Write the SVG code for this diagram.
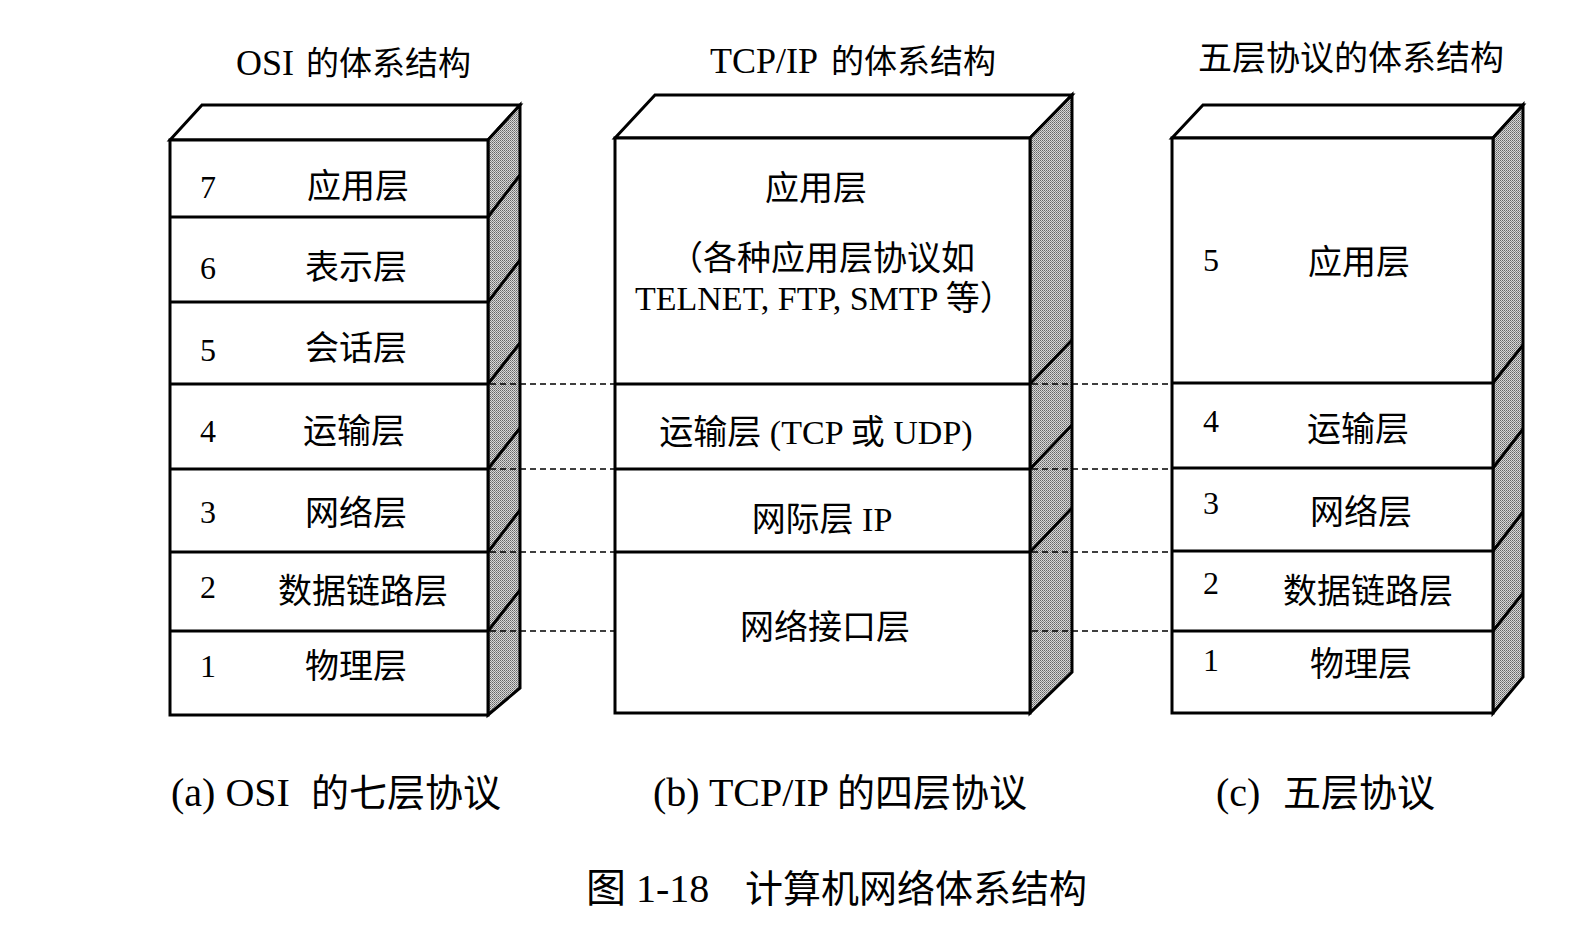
<svg xmlns="http://www.w3.org/2000/svg" width="1596" height="934" viewBox="0 0 1596 934">
<style>
.face{fill:#fff;stroke:#000;stroke-width:3;stroke-linejoin:miter}
.side{fill:url(#dots);stroke:#000;stroke-width:3}
.ln{stroke:#000;stroke-width:3;fill:none}
.dash{stroke:#000;stroke-width:1.6;stroke-dasharray:6 4;fill:none}
text{font-family:"Liberation Serif","Noto Sans CJK SC",serif;fill:#000}
.lab{font-size:34px;text-anchor:middle}
.num{font-size:32px}
.title{font-size:33px}
.cap{font-size:38px}
.lt{font-size:36px}
.lc{font-size:40px}
</style>
<defs>
<pattern id="dots" width="2" height="2" patternUnits="userSpaceOnUse">
<rect width="2" height="2" fill="#d8d8d8"/>
<rect width="1" height="1" fill="#666"/>
<rect x="1" y="1" width="1" height="1" fill="#888"/>
</pattern>
</defs>
<rect width="1596" height="934" fill="#fff"/>

<g id="titles">
<text class="title" x="236" y="75"><tspan class="lt">OSI</tspan><tspan x="306">的体系结构</tspan></text>
<text class="title" x="710" y="73"><tspan class="lt">TCP/IP</tspan><tspan x="831">的体系结构</tspan></text>
<text class="title" x="1198" y="70" style="font-size:34px">五层协议的体系结构</text>
</g>

<g id="osi">
<polygon class="face" points="170,140 202,105 520,105 488,140"/>
<polygon class="side" points="488,140 520,105 520,688 488,715"/>
<rect class="face" x="170" y="140" width="318" height="575"/>
<path class="ln" d="M170,217H488M170,302H488M170,384H488M170,469H488M170,552H488M170,631H488"/>
<path class="ln" d="M488,217L520,175M488,302L520,260M488,384L520,343M488,469L520,428M488,552L520,510M488,631L520,590"/>
<text class="num" x="200" y="198">7</text><text class="lab" x="358" y="198">应用层</text>
<text class="num" x="200" y="279">6</text><text class="lab" x="356" y="279">表示层</text>
<text class="num" x="200" y="361">5</text><text class="lab" x="356" y="360">会话层</text>
<text class="num" x="200" y="442">4</text><text class="lab" x="354" y="443">运输层</text>
<text class="num" x="200" y="523">3</text><text class="lab" x="356" y="525">网络层</text>
<text class="num" x="200" y="598">2</text><text class="lab" x="363" y="603">数据链路层</text>
<text class="num" x="200" y="677">1</text><text class="lab" x="356" y="678">物理层</text>
</g>

<g id="tcpip">
<polygon class="face" points="615,138 655,95 1072,95 1030,138"/>
<polygon class="side" points="1030,138 1072,95 1072,672 1030,713"/>
<rect class="face" x="615" y="138" width="415" height="575"/>
<path class="ln" d="M615,384H1030M615,469H1030M615,552H1030"/>
<path class="ln" d="M1030,384L1072,340M1030,469L1072,425M1030,552L1072,508"/>
<text class="lab" x="816" y="200">应用层</text>
<text class="lab" x="822" y="270">（各种应用层协议如</text>
<text x="635" y="310" style="font-size:34px">TELNET, FTP, SMTP 等）</text>
<text class="lab" x="816" y="444">运输层 (TCP 或 UDP)</text>
<text class="lab" x="822" y="531">网际层 IP</text>
<text class="lab" x="825" y="639">网络接口层</text>
</g>

<g id="five">
<polygon class="face" points="1172,138 1203,105 1523,105 1493,138"/>
<polygon class="side" points="1493,138 1523,105 1523,677 1493,713"/>
<rect class="face" x="1172" y="138" width="321" height="575"/>
<path class="ln" d="M1172,383H1493M1172,468H1493M1172,551H1493M1172,631H1493"/>
<path class="ln" d="M1493,383L1523,345M1493,468L1523,429M1493,551L1523,512M1493,631L1523,593"/>
<text class="num" x="1203" y="271">5</text><text class="lab" x="1359" y="274">应用层</text>
<text class="num" x="1203" y="432">4</text><text class="lab" x="1358" y="441">运输层</text>
<text class="num" x="1203" y="514">3</text><text class="lab" x="1361" y="524">网络层</text>
<text class="num" x="1203" y="594">2</text><text class="lab" x="1368" y="603">数据链路层</text>
<text class="num" x="1203" y="671">1</text><text class="lab" x="1361" y="676">物理层</text>
</g>

<g id="connectors">
<path class="dash" d="M490,384H614M490,469H614M490,552H614M490,631H614"/>
<path class="dash" d="M1032,384H1171M1032,469H1171M1032,552H1171M1032,631H1171"/>
</g>

<g id="captions">
<text class="cap" x="171" y="806"><tspan class="lc">(a) OSI</tspan><tspan x="311">的七层协议</tspan></text>
<text class="cap" x="653" y="806"><tspan class="lc">(b) TCP/IP</tspan><tspan x="837">的四层协议</tspan></text>
<text class="cap" x="1216" y="806"><tspan class="lc">(c)</tspan><tspan x="1283">五层协议</tspan></text>
<text class="cap" x="586" y="902"><tspan class="lc">图 1-18</tspan><tspan x="745">计算机网络体系结构</tspan></text>
</g>
</svg>
